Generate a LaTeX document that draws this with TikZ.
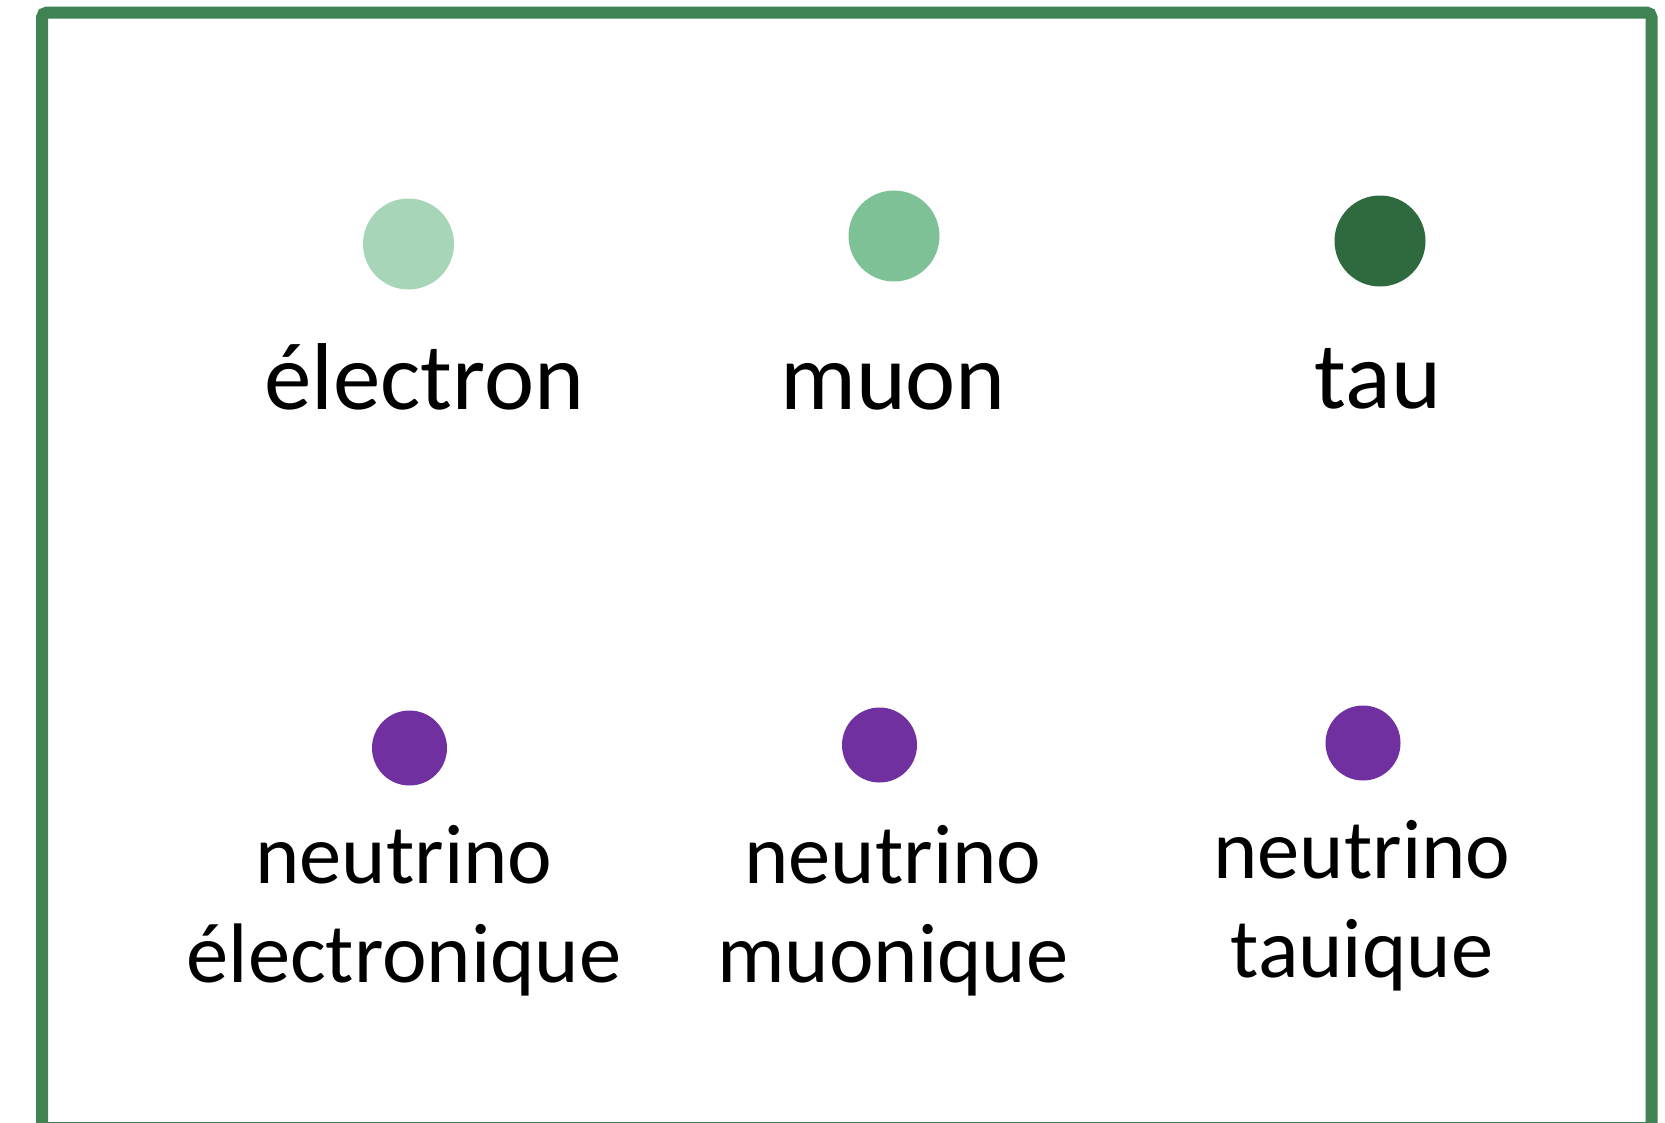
\documentclass[tikz,border=0pt]{standalone}
\usepackage{fontspec}
\setmainfont{Carlito}
\definecolor{framegreen}{HTML}{3F8352}
\definecolor{eleccol}{HTML}{A6D5B7}
\definecolor{muoncol}{HTML}{7FC196}
\definecolor{taucol}{HTML}{2F6A3F}
\definecolor{nucol}{HTML}{7030A0}
% two centred lines whose baseline is that of the first line
\newcommand{\twolines}[2]{\vtop{\halign{\hfil##\hfil\cr #1\cr #2\cr}}}
\begin{document}
\begin{tikzpicture}[x=1pt,y=-1pt,
  lepton/.style={circle,inner sep=0pt,minimum size=91pt},
  neutrino/.style={circle,fill=nucol,inner sep=0pt,minimum size=75pt},
  biglabel/.style={anchor=base,inner sep=0pt,font=\fontsize{95}{110}\selectfont},
  smalllabel/.style={anchor=base,inner sep=0pt,font=\fontsize{84.5}{99}\selectfont}]
\useasboundingbox (0,0) rectangle (1665,1122);
\clip (0,0) rectangle (1665,1122);
% frame
\draw[framegreen,line width=12pt,rounded corners=5pt] (42,12.5) rectangle (1651.5,1128);
% charged leptons
\node[lepton,fill=eleccol] (e) at (408.5,244) {};
\node[lepton,fill=muoncol] (mu) at (894,236) {};
\node[lepton,fill=taucol] (tau) at (1380,241) {};
\node[biglabel] (le) at (424,409) {électron};
\node[biglabel] (lmu) at (893,409) {muon};
\node[biglabel] (ltau) at (1378,408) {tau};
% neutrinos
\node[neutrino] (ne) at (409.5,748) {};
\node[neutrino] (nmu) at (879.5,745) {};
\node[neutrino] (ntau) at (1363,743) {};
\node[smalllabel] (lne) at (404,883) {\twolines{neutrino}{électronique}};
\node[smalllabel] (lnmu) at (893,883) {\twolines{neutrino}{muonique}};
\node[smalllabel] (lntau) at (1362,878) {\twolines{neutrino}{tauique}};
\end{tikzpicture}
\end{document}
